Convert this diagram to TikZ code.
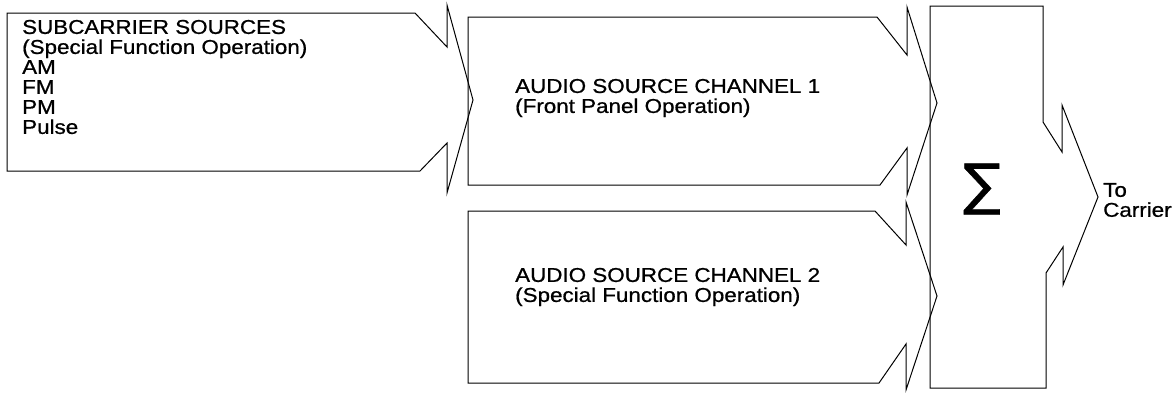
\documentclass[tikz,border=0pt]{standalone}
\usepackage{fontspec}
\setmainfont{Liberation Sans}[FakeBold=0.8,FakeStretch=1.12]
\newfontfamily\symfont{DejaVu Sans}[FakeBold=0.8]
\begin{document}
\begin{tikzpicture}[x=1pt,y=-1pt,
  shapeline/.style={draw=black,line width=1pt,line join=miter},
  label/.style={inner sep=0pt,align=left,font=\fontsize{20}{20}\selectfont}]
\useasboundingbox (0,0) rectangle (1176,392);
% subcarrier sources arrow
\draw[shapeline] (7,13) -- (415,13) -- (447,47) -- (447,5) -- (473,100) -- (447,193) -- (447,143) -- (420,171) -- (7,171) -- cycle;
% audio channel 1 arrow
\draw[shapeline] (468,17) -- (877,17) -- (907,55) -- (907,7) -- (937,103) -- (907,195) -- (907,148) -- (880,185) -- (468,185) -- cycle;
% audio channel 2 arrow
\draw[shapeline] (468,211) -- (875,211) -- (906,245) -- (906,202) -- (937,296) -- (906,390) -- (906,344) -- (879,383) -- (468,383) -- cycle;
% summing block
\draw[shapeline] (930,6) -- (1043,6) -- (1043,122) -- (1062,152) -- (1062,105) -- (1098,197) -- (1063,285) -- (1063,247) -- (1046,273) -- (1046,388) -- (930,388) -- cycle;
% texts
\node[label,anchor=west] (sub) at (22,77) {SUBCARRIER SOURCES\\(Special Function Operation)\\AM\\FM\\PM\\Pulse};
\node[label,anchor=west] (ch1) at (515,98) {AUDIO SOURCE CHANNEL 1\\(Front Panel Operation)};
\node[label,anchor=west] (ch2) at (515,287) {AUDIO SOURCE CHANNEL 2\\(Special Function Operation)};
\node[label,anchor=west] (car) at (1103,200) {To\\Carrier};
\node[inner sep=0pt] (sum) at (982,189) {\symfont\fontsize{56}{56}\selectfont ∑};
\end{tikzpicture}
\end{document}
